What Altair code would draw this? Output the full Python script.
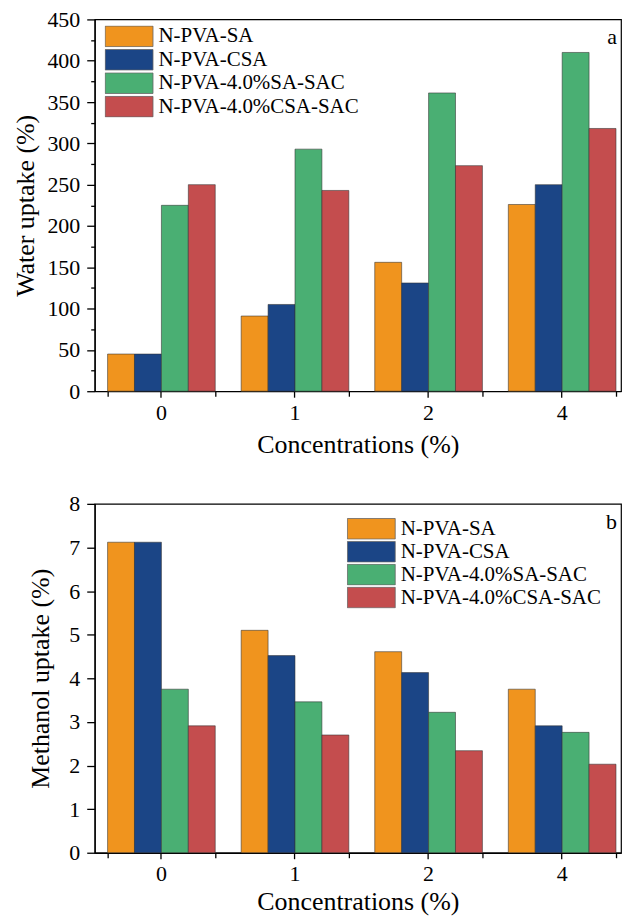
import altair as alt
import pandas as pd

FONT = "Liberation Serif"

concentrations = ["0", "1", "2", "4"]
series = ["N-PVA-SA", "N-PVA-CSA", "N-PVA-4.0%SA-SAC", "N-PVA-4.0%CSA-SAC"]
colors = ["#F0941E", "#1B4586", "#4AAF73", "#C44D4E"]

# Panel a: water uptake (%)
water_sa = [45, 91, 156, 226]
water_csa = [45, 105, 131, 250]
water_sa_sac = [225, 293, 361, 410]
water_csa_sac = [250, 243, 273, 318]

# Panel b: methanol uptake (%)
meth_sa = [7.12, 5.10, 4.61, 3.75]
meth_csa = [7.12, 4.52, 4.13, 2.91]
meth_sa_sac = [3.75, 3.46, 3.22, 2.76]
meth_csa_sac = [2.91, 2.70, 2.34, 2.03]


def frame(cols):
    rows = []
    for s, vals in zip(series, cols):
        for c, v in zip(concentrations, vals):
            rows.append({"conc": c, "series": s, "value": v})
    return pd.DataFrame(rows)


W = 528


def panel(df, ymax, ystep, yminor, ytitle, height, label, lx, ly, title_pad,
          label_offset, row_pad, x_title_pad):
    xscale = alt.Scale(domain=concentrations, paddingInner=0.194,
                       paddingOuter=0.067, align=0.72)
    n = int(round(ymax / yminor))
    yvals = [round(i * yminor, 4) for i in range(n + 1)]
    major_test = f"abs(datum.value / {ystep} - round(datum.value / {ystep})) < 0.000001"

    bars = alt.Chart(df).mark_bar(stroke="#333333", strokeWidth=0.8, strokeOpacity=0.7).encode(
        x=alt.X("conc:N", sort=concentrations, scale=xscale,
                axis=alt.Axis(title="Concentrations (%)", labelAngle=0, tickSize=6,
                              labelPadding=5, titlePadding=x_title_pad)),
        xOffset=alt.XOffset("series:N", sort=series,
                            scale=alt.Scale(domain=series, paddingInner=0, paddingOuter=0)),
        y=alt.Y("value:Q", scale=alt.Scale(domain=[0, ymax], nice=False, zero=True),
                axis=alt.Axis(title=ytitle, values=yvals, format="d",
                              labelExpr=f"{major_test} ? datum.label : ''",
                              tickSize={"condition": {"test": major_test, "value": 8}, "value": 4},
                              labelPadding=7, titlePadding=title_pad, labelOverlap=False)),
        color=alt.Color("series:N", sort=series,
                        scale=alt.Scale(domain=series, range=colors),
                        legend=alt.Legend(orient="none", legendX=lx, legendY=ly, title=None,
                                          symbolType="M-1,-0.43L1,-0.43L1,0.43L-1,0.43Z",
                                          symbolSize=2304, symbolStrokeColor="#666666",
                                          symbolStrokeWidth=0.8, labelFont=FONT,
                                          labelFontSize=21, labelColor="black",
                                          labelLimit=0, clipHeight=22,
                                          labelOffset=5, rowPadding=row_pad, padding=0)),
    )

    minor = alt.Chart(df).mark_bar(opacity=0).encode(
        x=alt.X("conc:N", sort=concentrations, scale=xscale,
                axis=alt.Axis(orient="bottom", tickBand="extent", labels=False,
                              domain=False, title=None, tickSize=5)),
    )

    return alt.layer(bars, minor).resolve_scale(x="independent").properties(
        width=W, height=height,
        title=alt.TitleParams(text=label, anchor="end", frame="group", orient="top",
                              offset=label_offset, fontSize=22, font=FONT,
                              fontWeight="normal", color="black", dx=-4),
    )


pa = panel(frame([water_sa, water_csa, water_sa_sac, water_csa_sac]),
           450, 50, 25, "Water uptake (%)", 373, "a", 10, 6, 8, -41, 1.5, 8)
pb = panel(frame([meth_sa, meth_csa, meth_sa_sac, meth_csa_sac]),
           8, 1, 0.5, "Methanol uptake (%)", 350, "b", 253, 14, 15, -41, 1, 4)

chart = alt.vconcat(pa, pb, spacing=34).resolve_scale(color="independent").resolve_legend(
    color="independent"
).properties(
    padding={"left": 12, "top": 6, "right": 0, "bottom": 0},
    background="white",
).configure_view(
    stroke="black", strokeWidth=1.2
).configure_axis(
    grid=False, domainColor="black", domainWidth=1.3, tickColor="black", tickWidth=1.3,
    labelFont=FONT, labelFontSize=22, labelColor="black",
    titleFont=FONT, titleFontSize=26, titleFontWeight="normal", titleColor="black",
)

chart.save("out.html", embed_options={"renderer": "svg", "actions": False})
